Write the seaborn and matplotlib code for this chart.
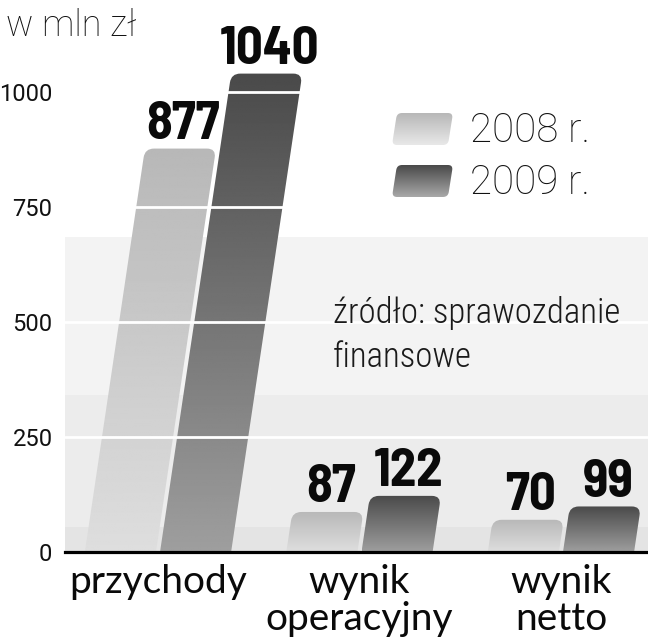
import numpy as np
import pandas as pd
import matplotlib
matplotlib.use("Agg")
import matplotlib.pyplot as plt
import seaborn as sns
from matplotlib.path import Path
from matplotlib.patches import PathPatch

# ---- data ----
categories = ["przychody", "wynik\noperacyjny", "wynik\nnetto"]
years = ["2008 r.", "2009 r."]
values_2008 = [877, 87, 70]
values_2009 = [1040, 122, 99]
y_ticks = [0, 250, 500, 750, 1000]
unit_label = "w mln zł"
source_lines = ["źródło: sprawozdanie", "finansowe"]

# ---- style ----
GRAD = {"2008 r.": (0.72, 0.87), "2009 r.": (0.29, 0.62)}   # (top, bottom) grey level
SHEAR = 3.4e-4            # horizontal category units per value unit (slanted bars)
BOLDC = ["Barlow Semi Condensed", "Barlow Condensed", "DejaVu Sans"]
CONDL = ["Roboto Condensed", "DejaVu Sans"]
LIGHT = ["Roboto", "DejaVu Sans"]
HUMAN = ["Lato", "DejaVu Sans"]

df = pd.DataFrame({
    "kategoria": categories * 2,
    "rok": [years[0]] * len(categories) + [years[1]] * len(categories),
    "wartosc": values_2008 + values_2009,
})

sns.set_theme(style="white")
W, H = 648, 640
fig = plt.figure(figsize=(W / 100, H / 100), dpi=100)
ax = fig.add_axes([65 / W, 88 / H, 1 - 65 / W, 506 / H])

sns.barplot(data=df, x="kategoria", y="wartosc", hue="rok", order=categories,
            hue_order=years, width=0.746, gap=0.054, errorbar=None,
            palette=["#cccccc", "#666666"], legend=False, ax=ax)

XLIM = (-0.4615, 2.432)
YLIM = (0, 1100)
sx = (W - 65) / (XLIM[1] - XLIM[0])
sy = 506 / (YLIM[1] - YLIM[0])


def rounded_poly(pts, radii, sx=1.0, sy=1.0):
    """Closed path through pts with corners rounded by radii (pixels)."""
    n = len(pts)
    verts, codes = [], []
    for i in range(n):
        P = np.array(pts[i], float)
        A = np.array(pts[i - 1], float)
        B = np.array(pts[(i + 1) % n], float)
        r = radii[i]
        if r <= 0:
            verts.append(tuple(P))
            codes.append(Path.MOVETO if i == 0 else Path.LINETO)
            continue

        def toward(Q):
            d = np.array([(Q[0] - P[0]) * sx, (Q[1] - P[1]) * sy])
            d = d / np.hypot(*d) * r
            return P + np.array([d[0] / sx, d[1] / sy])
        P1, P2 = toward(A), toward(B)
        verts.append(tuple(P1))
        codes.append(Path.MOVETO if i == 0 else Path.LINETO)
        verts += [tuple(P), tuple(P2)]
        codes += [Path.CURVE3, Path.CURVE3]
    verts.append(verts[0])
    codes.append(Path.CLOSEPOLY)
    return Path(verts, codes)


for cont, year in zip(ax.containers, years):
    top_c, bot_c = GRAD[year]
    for bar in cont:
        x0, w, h = bar.get_x(), bar.get_width(), bar.get_height()
        bar.set_visible(False)
        s = SHEAR * h
        pts = [(x0, 0), (x0 + w, 0), (x0 + w + s, h), (x0 + s, h)]
        path = rounded_poly(pts, [0, 0, 9, 9], sx, sy)
        patch = PathPatch(path, facecolor="none", edgecolor="none",
                          transform=ax.transData, zorder=2)
        ax.add_patch(patch)
        img = ax.imshow(np.linspace(bot_c, top_c, 256).reshape(-1, 1), cmap="gray",
                        vmin=0, vmax=1, origin="lower", aspect="auto",
                        extent=[x0, x0 + w + s, 0, h], interpolation="bilinear",
                        zorder=2)
        img.set_clip_path(patch)
        ax.annotate(f"{h:.0f}", xy=(x0 + w / 2 + s, h), xytext=(2, 7),
                    textcoords="offset points", ha="center", va="baseline",
                    fontsize=38, fontweight=700, family=BOLDC,
                    color="#0a0a0a", zorder=6, annotation_clip=False)

# background bands
ax.axhspan(341, 685, color="#f3f3f3", lw=0, zorder=0)
ax.axhspan(54, 341, color="#ececec", lw=0, zorder=0)
ax.axhspan(0, 54, color="#e4e4e4", lw=0, zorder=0)
for t in y_ticks[1:]:
    ax.axhline(t, color="white", lw=2.0, zorder=3)

ax.set_xlim(*XLIM)
ax.set_ylim(*YLIM)
ax.set_aspect("auto")
ax.set_xlabel("")
ax.set_ylabel("")
ax.set_yticks(y_ticks)
ax.set_yticklabels([str(t) for t in y_ticks])
ax.tick_params(axis="y", length=0, pad=9)
ax.tick_params(axis="x", length=0, pad=9)
for lbl in ax.get_yticklabels():
    lbl.set_family(LIGHT)
    lbl.set_fontweight("normal")
    lbl.set_fontsize(17)
    lbl.set_color("#111111")
for lbl in ax.get_xticklabels():
    lbl.set_family(HUMAN)
    lbl.set_fontsize(28)
    lbl.set_linespacing(1.03)
    lbl.set_color("#0a0a0a")
for side in ["left", "top", "right"]:
    ax.spines[side].set_visible(False)
ax.spines["bottom"].set_color("#000000")
ax.spines["bottom"].set_linewidth(2.3)
ax.spines["bottom"].set_zorder(5)

# ---- overlay in pixel coordinates: unit, legend, source ----
lax = fig.add_axes([0, 0, 1, 1], zorder=10)
lax.patch.set_alpha(0)
lax.axis("off")

lax.text(6, 36, unit_label, ha="left", va="baseline", fontsize=26,
         family=LIGHT, fontweight="light", color="#111111")

for year, yb in zip(years, [145, 197]):
    top_c, bot_c = GRAD[year]
    x0, w, h, s = 392, 56, 32, 5
    pts = [(x0, yb), (x0 + w, yb), (x0 + w + s, yb - h), (x0 + s, yb - h)]
    path = rounded_poly(pts, [5, 5, 5, 5])
    patch = PathPatch(path, facecolor="none", edgecolor="none",
                      transform=lax.transData)
    lax.add_patch(patch)
    img = lax.imshow(np.linspace(min(bot_c + 0.04, 0.95), top_c, 64).reshape(-1, 1),
                     cmap="gray", vmin=0, vmax=1, origin="lower", aspect="auto",
                     extent=[x0, x0 + w + s, yb, yb - h], interpolation="bilinear")
    img.set_clip_path(patch)
    lax.text(470, yb - 3, year, ha="left", va="baseline", fontsize=29,
             family=LIGHT, fontweight="light", color="#111111")

for line, yb in zip(source_lines, [323, 367]):
    lax.text(333, yb, line, ha="left", va="baseline", fontsize=25,
             family=CONDL, fontweight="light", color="#1a1a1a")

lax.set_xlim(0, W)
lax.set_ylim(H, 0)
lax.set_aspect("auto")

fig.savefig("out.png", dpi=100)
